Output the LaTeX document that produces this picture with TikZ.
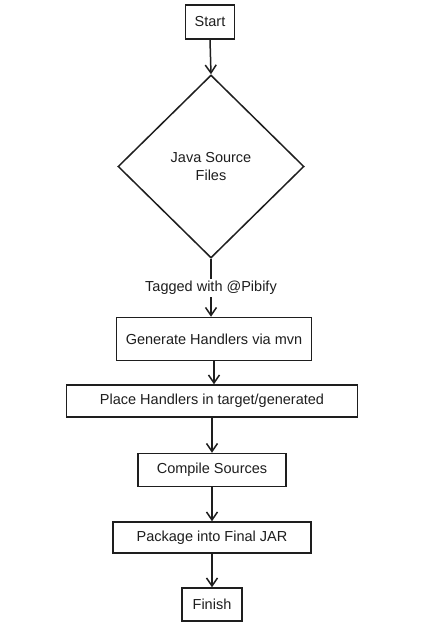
\documentclass[tikz,border=0pt]{standalone}
\usepackage{fontspec}
\setmainfont{Liberation Sans}
\usetikzlibrary{shapes.geometric,arrows.meta}
\definecolor{ink}{HTML}{1E1E1E}
\begin{document}
\begin{tikzpicture}[x=1pt,y=-1pt,
  box/.style={draw=ink,line width=1.5pt,rectangle,inner sep=0pt,font=\fontsize{14.5}{17}\selectfont,text=ink},
  dia/.style={draw=ink,line width=1.5pt,diamond,aspect=1,inner sep=0pt,font=\fontsize{14.5}{18}\selectfont,text=ink,align=center},
  flow/.style={draw=ink,line width=1.5pt,-{Straight Barb[length=8pt,width=11pt,line width=1.5pt]}},
  lbl/.style={fill=white,font=\fontsize{14.5}{17}\selectfont,text=ink,inner sep=2pt}]
\useasboundingbox (0,0) rectangle (420,634);
\fill[white] (0,0) rectangle (420,634);
\node[box,minimum width=49pt,minimum height=34pt] (start) at (210,22) {Start};
\node[dia,minimum width=186pt,minimum height=183pt] (java) at (211,166.5) {Java Source\\Files};
\node[box,minimum width=195pt,minimum height=43pt] (gen) at (214,339) {Generate Handlers via mvn};
\node[box,minimum width=291pt,minimum height=32pt] (place) at (212,401) {Place Handlers in target/generated};
\node[box,minimum width=148pt,minimum height=33pt] (comp) at (212,470) {Compile Sources};
\node[box,minimum width=198pt,minimum height=31pt] (pack) at (212,537.5) {Package into Final JAR};
\node[box,minimum width=60pt,minimum height=33pt] (fin) at (212,604.5) {Finish};
\draw[flow] (start.south) -- (java.north);
\draw[flow] (java.south) -- node[lbl] {Tagged with @Pibify} (java.south |- gen.north);
\draw[flow] (gen.south) -- (gen.south |- place.north);
\draw[flow] (place.south) -- (comp.north);
\draw[flow] (comp.south) -- (pack.north);
\draw[flow] (pack.south) -- (fin.north);
\end{tikzpicture}
\end{document}
